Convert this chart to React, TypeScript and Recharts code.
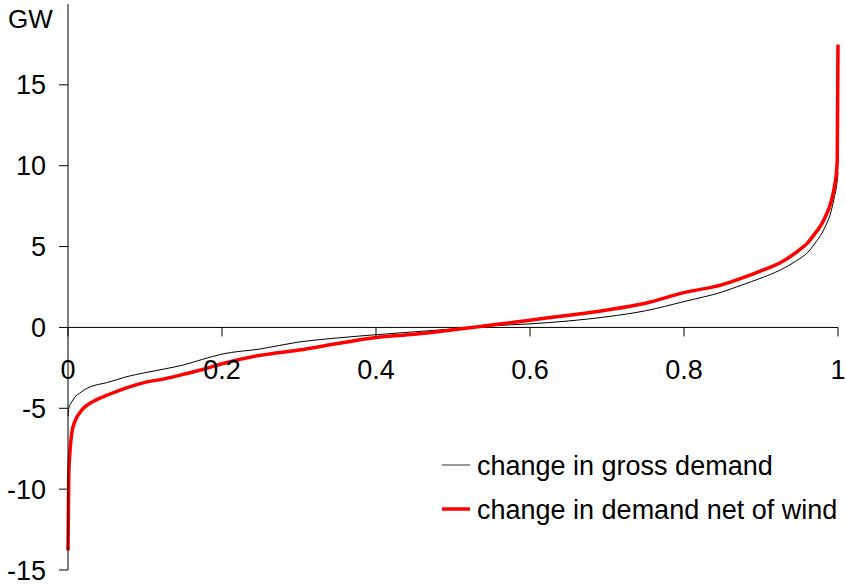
import React from 'react';
import { LineChart, Line, XAxis, YAxis, ReferenceLine } from 'recharts';

// share of hours (sorted), 0..1
const shares = [
  0, 0.001, 0.003, 0.005, 0.01, 0.015, 0.02, 0.03, 0.04, 0.05, 0.075, 0.1, 0.125, 0.15,
  0.175, 0.2, 0.25, 0.3, 0.35, 0.4, 0.45, 0.5, 0.55, 0.6, 0.65, 0.7, 0.75, 0.8, 0.85,
  0.875, 0.9, 0.925, 0.95, 0.96, 0.97, 0.98, 0.985, 0.99, 0.995, 0.998, 0.999, 1,
];

// hour-to-hour change in gross demand, GW
const grossDemand = [
  -5.5, -5.0, -4.75, -4.6, -4.25, -4.07, -3.9, -3.65, -3.52, -3.42, -3.06, -2.8, -2.57, -2.32,
  -1.97, -1.65, -1.33, -0.9, -0.65, -0.45, -0.27, -0.1, 0.1, 0.22, 0.4, 0.66, 1.03, 1.6,
  2.2, 2.62, 3.05, 3.55, 4.25, 4.6, 5.2, 5.9, 6.4, 7.0, 8.0, 8.7, 9.1, 9.6,
];

// hour-to-hour change in demand net of wind, GW
const netOfWind = [
  -13.8, -9.2, -7.4, -6.5, -5.7, -5.3, -5.0, -4.65, -4.4, -4.2, -3.75, -3.4, -3.18, -2.9,
  -2.6, -2.25, -1.72, -1.4, -1.0, -0.62, -0.42, -0.15, 0.15, 0.45, 0.75, 1.08, 1.5, 2.15,
  2.65, 3.05, 3.5, 4.0, 4.8, 5.2, 5.8, 6.5, 7.0, 7.6, 8.6, 9.6, 10.3, 17.5,
];

const xTicks = [0, 0.2, 0.4, 0.6, 0.8, 1];
const yTicks = [-15, -10, -5, 0, 5, 10, 15];

const data = shares.map((p, i) => ({ p, gross: grossDemand[i], net: netOfWind[i] }));

const FONT = '"Liberation Sans", Arial, sans-serif';
const W = 846;
const H = 586;
const X_AXIS_H = 1;
const MARGIN = { top: 4, right: 8, bottom: 15, left: 0 };
const Y_MIN = -15;
const Y_MAX = 20;
// pixel row of the zero line, where the x axis ticks hang
const PLOT_H = H - MARGIN.top - MARGIN.bottom - X_AXIS_H;
const ZERO_Y = MARGIN.top + (PLOT_H * Y_MAX) / (Y_MAX - Y_MIN);

const XTick = (props: any) => {
  const { x, payload } = props;
  return (
    <g>
      <line x1={x} x2={x} y1={ZERO_Y} y2={ZERO_Y + 9} stroke="#000" />
      <text x={x} y={ZERO_Y + 42} dy="0.355em" textAnchor="middle" fill="#000" fontSize={27} fontFamily={FONT}>
        {String(payload.value)}
      </text>
    </g>
  );
};

const legendItems = [
  { label: 'change in gross demand', color: '#333', width: 1 },
  { label: 'change in demand net of wind', color: '#ff0000', width: 3.5 },
];

export default function App() {
  return (
    <div style={{ position: 'absolute', left: 0, top: 0, width: W, height: H, background: '#fff' }}>
      <LineChart width={W} height={H} data={data} margin={MARGIN}>
        <XAxis
          type="number"
          dataKey="p"
          domain={[0, 1]}
          ticks={xTicks}
          interval={0}
          height={X_AXIS_H}
          axisLine={false}
          tickLine={false}
          tick={XTick}
        />
        <YAxis
          type="number"
          domain={[Y_MIN, Y_MAX]}
          ticks={yTicks}
          interval={0}
          width={68}
          allowDataOverflow
          axisLine={{ stroke: '#000' }}
          tickLine={{ stroke: '#000' }}
          tickSize={9}
          tickMargin={13}
          tick={{ fill: '#000', fontSize: 27, fontFamily: FONT }}
        />
        <ReferenceLine y={0} stroke="#000" />
        <Line
          type="monotone"
          dataKey="gross"
          stroke="#000"
          strokeWidth={1}
          dot={false}
          isAnimationActive={false}
        />
        <Line
          type="monotone"
          dataKey="net"
          stroke="#ff0000"
          strokeWidth={3.5}
          dot={false}
          isAnimationActive={false}
        />
      </LineChart>
      <svg width={W} height={H} style={{ position: 'absolute', left: 0, top: 0, pointerEvents: 'none' }}>
        <text x={8} y={28} fontSize={26} fontFamily={FONT} fill="#000">
          GW
        </text>
        {legendItems.map((item, i) => {
          const cy = 465 + i * 44;
          return (
            <g key={item.label}>
              <line x1={442} x2={470} y1={cy} y2={cy} stroke={item.color} strokeWidth={item.width} />
              <text x={477} y={cy + 10} fontSize={27} fontFamily={FONT} fill="#000">
                {item.label}
              </text>
            </g>
          );
        })}
      </svg>
    </div>
  );
}
